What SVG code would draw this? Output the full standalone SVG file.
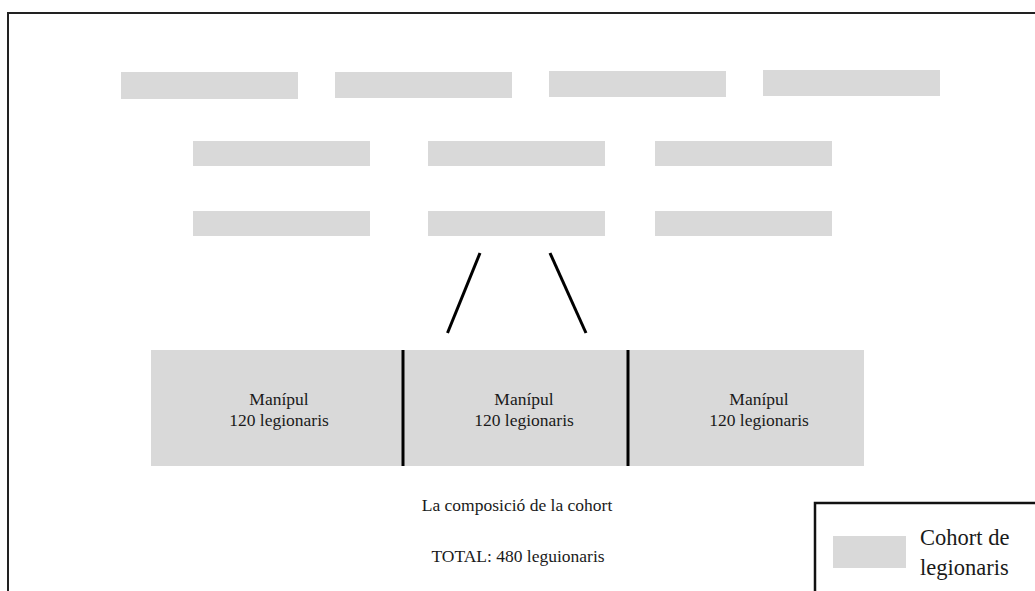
<svg xmlns="http://www.w3.org/2000/svg" width="1035" height="591" viewBox="0 0 1035 591">
<style>
.cohort{fill:#d9d9d9;}
.t{font-family:"Liberation Serif","Times New Roman",serif;font-size:17.5px;fill:#1a1a1a;text-anchor:middle;}
.lg{font-family:"Liberation Serif","Times New Roman",serif;font-size:22.5px;fill:#1a1a1a;}
.ln{stroke:#000;stroke-width:3;fill:none;}
</style>
<rect x="8" y="13" width="1100" height="700" fill="#fff" stroke="#222" stroke-width="2"/>
<g id="row1">
<rect id="c1" class="cohort" x="121" y="72" width="177" height="27"/>
<rect id="c2" class="cohort" x="335" y="72" width="177" height="26"/>
<rect id="c3" class="cohort" x="549" y="71" width="177" height="26"/>
<rect id="c4" class="cohort" x="763" y="70" width="177" height="26"/>
</g>
<g id="row2">
<rect id="c5" class="cohort" x="193" y="141" width="177" height="25"/>
<rect id="c6" class="cohort" x="428" y="141" width="177" height="25"/>
<rect id="c7" class="cohort" x="655" y="141" width="177" height="25"/>
</g>
<g id="row3">
<rect id="c8" class="cohort" x="193" y="211" width="177" height="25"/>
<rect id="c9" class="cohort" x="428" y="211" width="177" height="25"/>
<rect id="c10" class="cohort" x="655" y="211" width="177" height="25"/>
</g>
<g id="connectors">
<line class="ln" x1="480" y1="253" x2="447.5" y2="333"/>
<line class="ln" x1="550" y1="253" x2="586" y2="333"/>
</g>
<g id="cohort-detail">
<rect class="cohort" x="151" y="350" width="713" height="116"/>
<line class="ln" x1="403" y1="350" x2="403" y2="466"/>
<line class="ln" x1="628" y1="350" x2="628" y2="466"/>
</g>
<g id="manipul1">
<text class="t" x="279" y="405">Manípul</text>
<text class="t" x="279" y="426">120 legionaris</text>
</g>
<g id="manipul2">
<text class="t" x="524" y="405">Manípul</text>
<text class="t" x="524" y="426">120 legionaris</text>
</g>
<g id="manipul3">
<text class="t" x="759" y="405">Manípul</text>
<text class="t" x="759" y="426">120 legionaris</text>
</g>
<g id="caption">
<text class="t" x="517" y="511">La composició de la cohort</text>
<text class="t" x="518" y="562">TOTAL: 480 leguionaris</text>
</g>
<g id="legend">
<rect x="815" y="503" width="300" height="150" fill="#fff" stroke="#111" stroke-width="2.5"/>
<rect class="cohort" x="833" y="536" width="73" height="32"/>
<text class="lg" x="920" y="545">Cohort de</text>
<text class="lg" x="920" y="575">legionaris</text>
</g>
</svg>
